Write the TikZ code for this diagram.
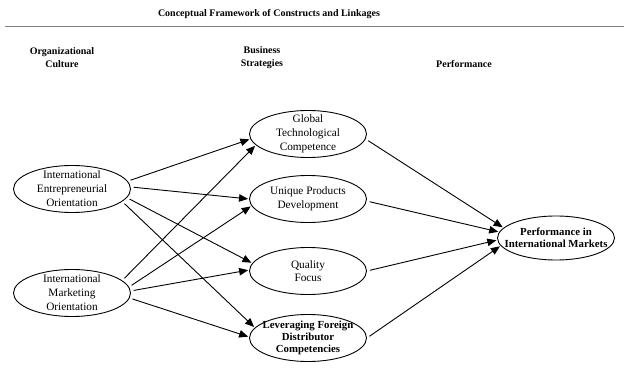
\documentclass[tikz,border=0pt]{standalone}
\usepackage{fontspec}
\setmainfont{Liberation Serif}
\usetikzlibrary{arrows.meta,shapes.geometric}
\begin{document}
\begin{tikzpicture}[x=1pt,y=-1pt,
  oval/.style={draw,ellipse,line width=0.9pt,minimum width=117pt,minimum height=47pt,inner sep=0pt},
  ovaltext/.style={align=center,font=\fontsize{11.3}{14}\selectfont,inner sep=0pt},
  ovalbold/.style={align=center,font=\fontsize{10.8}{12}\selectfont\bfseries,inner sep=0pt},
  head/.style={align=center,font=\fontsize{10}{13}\selectfont\bfseries,inner sep=0pt},
  link/.style={line width=0.9pt,-{Triangle[length=9pt,width=7.5pt]},shorten <=3pt,shorten >=1pt}]
\useasboundingbox (0,0) rectangle (624,382);
\node[head] (title) at (269,14) {Conceptual Framework of Constructs and Linkages};
\coordinate (rl) at (5,26);
\coordinate (rr) at (624,26);
\draw[gray,line width=0.6pt] (rl) -- (rr);
\node[head] (h1) at (62,57.5) {Organizational\\Culture};
\node[head] (h2) at (262,57.5) {Business\\Strategies};
\node[head] (h3) at (464,64) {Performance};

\node[oval] (ieo) at (72,189) {};
\node[ovaltext] (ieot) at (ieo) {International\\Entrepreneurial\\Orientation};
\node[oval] (imo) at (72,293) {};
\node[ovaltext] (imot) at (imo) {International\\Marketing\\Orientation};
\node[oval] (gtc) at (308,134) {};
\node[ovaltext] (gtct) at (gtc) {Global\\Technological\\Competence};
\node[oval] (upd) at (308,199) {};
\node[ovaltext] (updt) at (upd) {Unique Products\\Development};
\node[oval] (qf) at (308,271) {};
\node[ovaltext,font=\fontsize{11.3}{13}\selectfont] (qft) at (qf) {Quality\\Focus};
\node[oval] (lfd) at (308,338) {};
\node[ovalbold] (lfdt) at (lfd) {Leveraging Foreign\\Distributor\\Competencies};
\node[oval,minimum height=44pt] (pim) at (556,238) {};
\node[ovalbold,font=\fontsize{10.8}{11.5}\selectfont\bfseries] (pimt) at (pim) {Performance in\\International Markets};

\draw[link] (ieo.8.4) -- (gtc.185.6);
\draw[link] (ieo.2.8) -- (upd.180);
\draw[link] (ieo.-9) -- (qf.172.4);
\draw[link] (ieo.-14.5) -- (lfd.169);
\draw[link] (imo.14.3) -- (gtc.192.4);
\draw[link] (imo.6.9) -- (upd.187.5);
\draw[link] (imo.2.8) -- (qf.179);
\draw[link] (imo.-5.6) -- (lfd.179);
\draw[link] (gtc.-5.7) -- (pim.169);
\draw[link] (upd.-2.7) -- (pim.174.4);
\draw[link] (qf.0) -- (pim.182);
\draw[link] (lfd.0) -- (pim.188.8);
\end{tikzpicture}
\end{document}
